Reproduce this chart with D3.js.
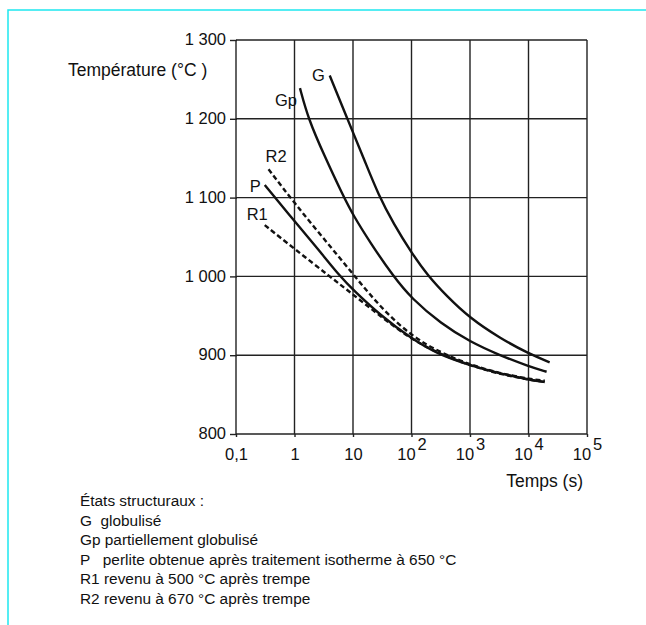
<!DOCTYPE html>
<html>
<head>
<meta charset="utf-8">
<script src="https://cdn.jsdelivr.net/npm/d3@7"></script>
<style>
  html, body { margin: 0; padding: 0; background: #fff; }
  svg { display: block; font-family: 'Liberation Sans', Arial, Helvetica, sans-serif; }
</style>
</head>
<body>
<script>
// tick values
const timeTicks = [0.1, 1, 10, 100, 1000, 10000, 100000];
const timeExponents = ['', '', '', '2', '3', '4', '5'];
const tempTicks = [800, 900, 1000, 1100, 1200, 1300];

// curves: time (s) and temperature (°C)
const gTime = [4, 8, 16, 27, 50, 100, 190, 400, 1000, 3200, 10000, 23000];
const gTemp = [1255, 1200, 1146, 1104, 1066, 1030, 1001, 975, 947, 922, 902, 891];

const gpTime = [1.24, 1.72, 3.2, 6.8, 10, 20, 49, 100, 320, 1000, 3200, 10000, 20400];
const gpTemp = [1239, 1200, 1154, 1102, 1078, 1042, 1000, 972, 940, 917, 900, 886, 879];

const pTime = [0.31, 1, 2.5, 6, 10, 30, 100, 270, 1000, 3200, 10000, 19000];
const pTemp = [1116, 1070, 1035, 1000, 983, 950, 921, 902, 887, 877, 869, 866];

const r1Time = [0.31, 1, 4, 10, 30, 100, 320, 1000, 3200, 10000, 19000];
const r1Temp = [1065, 1035, 1000, 977, 949, 920, 901, 887, 876, 869, 866];

const r2Time = [0.36, 1, 3, 10, 30, 100, 320, 1000, 3200, 10000, 19000];
const r2Temp = [1136, 1093, 1050, 1003, 960, 924, 903, 888, 877, 870, 867.5];

const legendLines = [
  'États structuraux :',
  'G  globulisé',
  'Gp partiellement globulisé',
  'P   perlite obtenue après traitement isotherme à 650 °C',
  'R1 revenu à 500 °C après trempe',
  'R2 revenu à 670 °C après trempe',
];

const width = 646;
const height = 625;
const plot = { left: 236, right: 587, top: 40, bottom: 434 };
const fontSize = 16.5;

const frLocale = d3.formatLocale({ decimal: ',', thousands: ' ', grouping: [3], currency: ['', ''] });

function main() {
  const series = [
    { name: 'G', dashed: false, values: gTime.map((t, i) => ({ t, T: gTemp[i] })), label: [-5, 6, 'end'] },
    { name: 'Gp', dashed: false, values: gpTime.map((t, i) => ({ t, T: gpTemp[i] })), label: [-3, 18, 'end'] },
    { name: 'P', dashed: false, values: pTime.map((t, i) => ({ t, T: pTemp[i] })), label: [-4, 7, 'end'] },
    { name: 'R1', dashed: true, values: r1Time.map((t, i) => ({ t, T: r1Temp[i] })), label: [3, -5, 'end'] },
    { name: 'R2', dashed: true, values: r2Time.map((t, i) => ({ t, T: r2Temp[i] })), label: [-3, -7, 'start'] },
  ];

  const svg = d3.select('body').append('svg').attr('width', width).attr('height', height);

  createFrame(svg);

  const [xScale, yScale] = createScales();
  createGrid(svg, xScale, yScale);
  createAxes(svg, xScale, yScale);

  const line = d3
    .line()
    .x(d => xScale(d.t))
    .y(d => yScale(d.T))
    .curve(d3.curveBasis);

  svg
    .selectAll('path.curve')
    .data(series)
    .enter()
    .append('path')
    .attr('class', 'curve')
    .attr('d', d => line(d.values))
    .attr('fill', 'none')
    .attr('stroke', '#111')
    .attr('stroke-width', 2.4)
    .attr('stroke-dasharray', d => (d.dashed ? '5,3' : null));

  svg
    .selectAll('text.curve-label')
    .data(series)
    .enter()
    .append('text')
    .attr('class', 'curve-label')
    .attr('x', d => xScale(d.values[0].t) + d.label[0])
    .attr('y', d => yScale(d.values[0].T) + d.label[1])
    .attr('text-anchor', d => d.label[2])
    .attr('font-size', fontSize)
    .attr('fill', '#111')
    .text(d => d.name);

  createLegend(svg);
}

function createFrame(svg) {
  svg.append('rect').attr('width', width).attr('height', height).attr('fill', '#fff');
  svg
    .append('path')
    .attr('d', `M8,${height} V10 H${width}`)
    .attr('fill', 'none')
    .attr('stroke', '#1ee8f0')
    .attr('stroke-width', 1.5);
}

function createScales() {
  const xScale = d3
    .scaleLog()
    .domain([timeTicks[0], timeTicks[timeTicks.length - 1]])
    .range([plot.left, plot.right]);

  const yScale = d3
    .scaleLinear()
    .domain([tempTicks[0], tempTicks[tempTicks.length - 1]])
    .range([plot.bottom, plot.top]);

  return [xScale, yScale];
}

function createGrid(svg, xScale, yScale) {
  const grid = svg.append('g').attr('stroke', '#222').attr('stroke-width', 1.4);

  grid
    .selectAll('line.h')
    .data(tempTicks)
    .enter()
    .append('line')
    .attr('x1', plot.left)
    .attr('x2', plot.right)
    .attr('y1', d => yScale(d))
    .attr('y2', d => yScale(d));

  grid
    .selectAll('line.v')
    .data(timeTicks)
    .enter()
    .append('line')
    .attr('x1', d => xScale(d))
    .attr('x2', d => xScale(d))
    .attr('y1', plot.top)
    .attr('y2', plot.bottom);
}

function createAxes(svg, xScale, yScale) {
  const yAxis = svg
    .append('g')
    .attr('transform', `translate(${plot.left + 1}, 0)`)
    .call(d3.axisLeft(yScale).tickValues(tempTicks).tickSize(7).tickPadding(4).tickFormat(frLocale.format(',')));

  const xAxis = svg
    .append('g')
    .attr('transform', `translate(0, ${plot.bottom})`)
    .call(d3.axisBottom(xScale).tickValues(timeTicks).tickSize(3).tickPadding(6).tickFormat(''));

  [yAxis, xAxis].forEach(axis => {
    axis.select('.domain').remove();
    axis.selectAll('line').attr('stroke', '#222').attr('stroke-width', 1.4);
    axis.selectAll('text').attr('font-size', fontSize).attr('fill', '#111').attr('font-family', null);
  });

  yAxis.selectAll('text').attr('dy', '0.28em');

  xAxis.selectAll('.tick').each(function (d, i) {
    const text = d3.select(this).select('text').attr('y', 26).attr('dy', null);
    if (timeExponents[i]) {
      text.text('10');
      text.append('tspan').attr('dx', 2).attr('dy', -10).text(timeExponents[i]);
    } else {
      text.text(frLocale.format('')(d));
    }
  });

  svg
    .append('text')
    .attr('x', 68)
    .attr('y', 76)
    .attr('font-size', 17.5)
    .attr('fill', '#111')
    .text('Température (°C )');

  svg
    .append('text')
    .attr('x', 583)
    .attr('y', 487)
    .attr('text-anchor', 'end')
    .attr('font-size', 17.5)
    .attr('fill', '#111')
    .text('Temps (s)');
}

function createLegend(svg) {
  svg
    .append('g')
    .selectAll('text')
    .data(legendLines)
    .enter()
    .append('text')
    .attr('x', 80)
    .attr('y', (_, i) => 506 + i * 19.5)
    .attr('font-size', 15.4)
    .attr('fill', '#111')
    .style('white-space', 'pre')
    .text(d => d);
}

main();
</script>
</body>
</html>
